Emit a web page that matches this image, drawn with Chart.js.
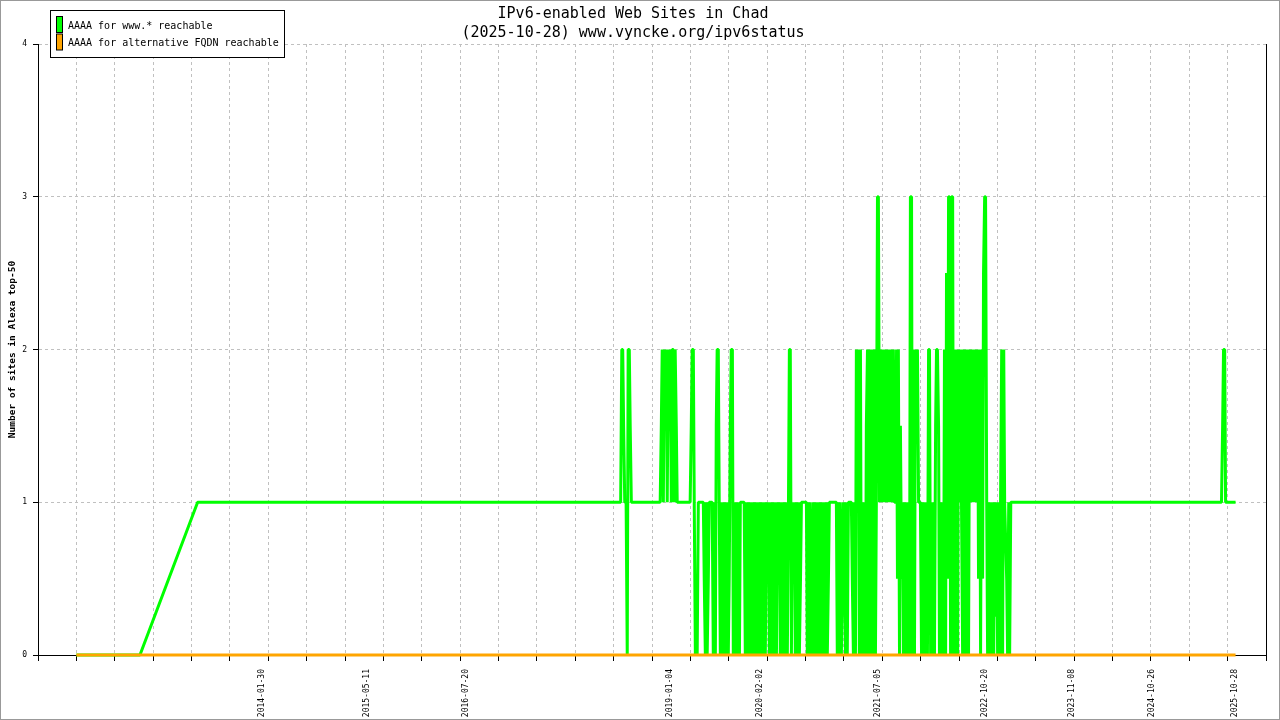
<!DOCTYPE html>
<html>
<head>
<meta charset="utf-8">
<title>IPv6-enabled Web Sites in Chad</title>
<script src="https://cdn.jsdelivr.net/npm/chart.js@4.4.1/dist/chart.umd.min.js"></script>
<style>
  html, body { margin: 0; padding: 0; background: #fff; }
  #wrap { width: 1280px; height: 720px; }
</style>
</head>
<body>
<div id="wrap"><canvas id="ipv6Chart" width="1280" height="720"></canvas></div>
<script>
// survey day index: days since the first measurement
const firstDay = '2011-11-07';

const titleLines = ['IPv6-enabled Web Sites in Chad', '(2025-10-28) www.vyncke.org/ipv6status'];
const yTitle = 'Number of sites in Alexa top-50';

const labelDates = ['2014-01-30', '2015-05-11', '2016-07-20', '2019-01-04', '2020-02-02',
  '2021-07-05', '2022-10-20', '2023-11-08', '2024-10-26', '2025-10-28'];

// AAAA for www.* reachable
const wwwDays = [
  0, 280, 534, 2397, 2402, 2406, 2410, 2415, 2421, 2426,
  2430, 2435, 2439, 2444, 2571, 2576, 2580, 2585, 2589, 2593,
  2598, 2602, 2607, 2611, 2615, 2620, 2624, 2629, 2633, 2637,
  2642, 2646, 2703, 2708, 2712, 2717, 2721, 2726, 2730, 2734,
  2739, 2761, 2765, 2770, 2774, 2778, 2783, 2787, 2800, 2805,
  2809, 2814, 2818, 2822, 2827, 2831, 2836, 2840, 2845, 2849,
  2853, 2858, 2862, 2867, 2871, 2875, 2880, 2884, 2889, 2893,
  2897, 2902, 2906, 2911, 2915, 2920, 2924, 2941, 2946, 2950,
  2955, 2959, 2963, 2968, 2972, 2977, 2981, 2986, 2990, 2994,
  2999, 3003, 3008, 3012, 3016, 3021, 3025, 3030, 3034, 3039,
  3043, 3047, 3052, 3056, 3061, 3065, 3069, 3074, 3078, 3083,
  3087, 3091, 3096, 3100, 3105, 3109, 3114, 3118, 3122, 3127,
  3131, 3136, 3140, 3144, 3149, 3153, 3158, 3162, 3166, 3171,
  3175, 3180, 3184, 3189, 3193, 3215, 3219, 3224, 3228, 3232,
  3237, 3241, 3246, 3250, 3254, 3259, 3263, 3268, 3272, 3276,
  3281, 3285, 3290, 3294, 3299, 3303, 3307, 3312, 3316, 3347,
  3351, 3356, 3360, 3364, 3369, 3373, 3378, 3382, 3387, 3391,
  3395, 3400, 3413, 3417, 3422, 3426, 3431, 3435, 3439, 3444,
  3448, 3453, 3457, 3462, 3466, 3470, 3475, 3479, 3484, 3488,
  3492, 3497, 3501, 3506, 3510, 3514, 3519, 3523, 3528, 3532,
  3537, 3541, 3545, 3550, 3554, 3559, 3563, 3567, 3572, 3576,
  3581, 3585, 3589, 3594, 3598, 3603, 3607, 3612, 3616, 3620,
  3625, 3629, 3634, 3638, 3642, 3647, 3651, 3656, 3660, 3664,
  3669, 3673, 3678, 3682, 3687, 3691, 3695, 3700, 3704, 3709,
  3717, 3722, 3726, 3731, 3735, 3739, 3744, 3748, 3753, 3757,
  3762, 3766, 3770, 3775, 3779, 3784, 3788, 3792, 3797, 3801,
  3806, 3810, 3815, 3819, 3823, 3828, 3832, 3837, 3841, 3845,
  3850, 3854, 3859, 3863, 3867, 3872, 3876, 3881, 3885, 3890,
  3894, 3898, 3903, 3907, 3912, 3916, 3920, 3925, 3929, 3934,
  3938, 3942, 3947, 3951, 3956, 3960, 3965, 3969, 3973, 3978,
  3982, 3987, 3991, 3995, 4000, 4004, 4009, 4013, 4017, 4022,
  4026, 4031, 4035, 4040, 4044, 4048, 4053, 4057, 4062, 4066,
  4070, 4075, 4079, 4084, 4088, 4097, 4101, 4106, 4110, 4115,
  5043, 5048, 5052, 5057, 5061, 5105
];
const wwwSites = [
  0, 0, 1, 1, 2, 2, 1.5, 1, 1, 0,
  2, 2, 1.5, 1, 1, 1.5, 2, 1, 2, 1.5,
  2, 1, 2, 1.5, 2, 1, 2, 2, 1, 2,
  1.5, 1, 1, 1.5, 2, 2, 1, 0, 0.5, 0,
  1, 1, 0.5, 0, 1, 0, 0.5, 1, 1, 0,
  1, 0, 1.5, 2, 2, 1, 0, 1, 0, 1,
  0, 1, 0, 1, 0, 0.5, 1.5, 2, 2, 0,
  1, 0, 1, 0, 1, 0, 1, 1, 0, 1,
  0, 1, 0, 1, 0, 1, 0, 1, 0, 1,
  0, 1, 0, 1, 0, 1, 0, 1, 0, 1,
  0.5, 1, 0, 1, 0, 0.5, 1, 0, 1, 0,
  1, 0.5, 1, 0, 1, 0, 1, 0, 0.5, 1,
  0, 1, 2, 2, 0, 1, 0.5, 1, 0, 1,
  0, 1, 0, 0.5, 1, 1, 0, 1, 0, 1,
  0, 0.5, 1, 0, 1, 0, 1, 0, 0.5, 1,
  0, 1, 0, 1, 0, 1, 0, 0.5, 1, 1,
  0, 1, 0, 1, 0, 0.5, 1, 0.5, 0, 1,
  0, 1, 1, 0.5, 0, 1, 0, 2, 1, 2,
  0, 2, 0, 1, 0, 1, 0, 1.5, 2, 0,
  2, 0, 2, 1.5, 0, 2, 0, 1, 3, 3,
  1, 2, 1, 2, 1, 2, 1, 2, 1, 2,
  1, 1.5, 2, 1, 2, 1, 1, 2, 0.5, 2,
  0, 1.5, 0.5, 1, 0, 1, 0, 1, 0, 1,
  0, 3, 3, 0, 2, 0, 2, 1.5, 2, 1,
  1, 0, 1, 0, 1, 0, 1, 0, 2, 2,
  0, 1, 0, 1, 0, 1.5, 2, 2, 1.5, 0,
  1, 0, 1, 0, 2, 0, 2.5, 0.5, 3, 3,
  0, 3, 3, 0, 2, 0, 2, 0, 2, 1,
  2, 1, 0, 2, 0, 2, 0, 2, 0, 2,
  1, 2, 1, 2, 1, 2, 1, 2, 0.5, 2,
  0, 2, 0.5, 2.5, 3, 3, 1, 0, 1, 0,
  1, 0, 1, 0, 1, 0.25, 1, 0, 1, 0,
  1, 2, 0, 2, 1, 0.5, 0, 1, 0, 1,
  1, 1.5, 2, 2, 1, 1
];

// AAAA for alternative FQDN reachable
const altDays = [0, 5105];
const altSites = [0, 0];

const mono = "'DejaVu Sans Mono', monospace";

function dayIndex(s) {
  const [y, m, d] = s.split('-').map(Number);
  const [y0, m0, d0] = firstDay.split('-').map(Number);
  return Math.round((Date.UTC(y, m - 1, d) - Date.UTC(y0, m0 - 1, d0)) / 864e5);
}
const labelDays = labelDates.map(dayIndex);
const toPoints = (days, vals) => days.map((d, i) => ({ x: d, y: vals[i] }));

const tickStep = 169;
const xMin = -tickStep;
const xMax = 31 * tickStep;

const boxLegend = {
  id: 'boxLegend',
  afterDraw(chart) {
    const ctx = chart.ctx;
    ctx.save();
    ctx.fillStyle = '#fff';
    ctx.fillRect(50.5, 10.5, 234, 47);
    ctx.strokeStyle = '#000';
    ctx.lineWidth = 1;
    ctx.strokeRect(50.5, 10.5, 234, 47);
    ctx.font = '10px ' + mono;
    ctx.textBaseline = 'middle';
    chart.data.datasets.forEach((ds, i) => {
      const top = 16.5 + i * 17.5;
      ctx.fillStyle = ds.borderColor;
      ctx.fillRect(56.5, top, 6, 16);
      ctx.strokeStyle = '#000';
      ctx.strokeRect(56.5, top, 6, 16);
      ctx.fillStyle = '#000';
      ctx.fillText(ds.label, 68, 26 + i * 17.3);
    });
    ctx.restore();
  }
};

const frame = {
  id: 'frame',
  afterDraw(chart) {
    const ctx = chart.ctx;
    ctx.save();
    ctx.strokeStyle = '#999';
    ctx.lineWidth = 1;
    ctx.strokeRect(0.5, 0.5, chart.width - 1, chart.height - 1);
    ctx.restore();
  }
};

Chart.defaults.font.family = mono;

new Chart(document.getElementById('ipv6Chart'), {
  type: 'line',
  data: {
    datasets: [
      {
        label: 'AAAA for www.* reachable',
        data: toPoints(wwwDays, wwwSites),
        borderColor: '#00ff00',
        backgroundColor: '#00ff00',
        borderWidth: 3,
        borderJoinStyle: 'bevel',
        pointRadius: 0,
        tension: 0,
        fill: false,
        clip: 4,
        order: 2
      },
      {
        label: 'AAAA for alternative FQDN reachable',
        data: toPoints(altDays, altSites),
        borderColor: '#ffa500',
        backgroundColor: '#ffa500',
        borderWidth: 3,
        pointRadius: 0,
        tension: 0,
        fill: false,
        clip: 4,
        order: 1
      }
    ]
  },
  options: {
    responsive: false,
    devicePixelRatio: 1,
    animation: false,
    events: [],
    layout: { padding: { left: 0, right: 14, top: 0, bottom: 0 } },
    plugins: {
      legend: { display: false },
      tooltip: { enabled: false },
      title: {
        display: true,
        text: titleLines,
        color: '#000',
        font: { family: mono, size: 15, weight: 'normal', lineHeight: 1.3 },
        padding: { top: 4, bottom: 1 }
      }
    },
    scales: {
      x: {
        type: 'linear',
        position: 'bottom',
        min: xMin,
        max: xMax,
        ticks: { stepSize: tickStep, display: false },
        grid: {
          color: c => (c.index === 0 || c.tick.value === xMax) ? 'rgba(0,0,0,0)' : '#c0c0c0',
          lineWidth: 1,
          tickLength: 6,
          tickColor: '#000'
        },
        border: { display: true, color: '#000', width: 1, dash: [3, 3] },
        afterFit(s) { s.height = 6; }
      },
      xDates: {
        type: 'linear',
        position: 'bottom',
        weight: 1,
        min: xMin,
        max: xMax,
        afterBuildTicks(s) { s.ticks = labelDays.map(v => ({ value: v })); },
        ticks: {
          autoSkip: false,
          minRotation: 90,
          maxRotation: 90,
          padding: 8,
          color: '#000',
          font: { family: mono, size: 8 },
          callback: (v, i) => labelDates[i]
        },
        grid: { display: false, drawTicks: false, tickLength: 0 },
        border: { display: false },
        afterFit(s) { s.height = 59; }
      },
      y: {
        type: 'linear',
        position: 'left',
        min: 0,
        max: 4,
        ticks: { stepSize: 1, color: '#000', padding: 6, font: { family: mono, size: 8 } },
        grid: {
          color: c => c.tick.value === 0 ? 'rgba(0,0,0,0)' : '#c0c0c0',
          lineWidth: 1,
          tickLength: 5,
          tickColor: '#000'
        },
        border: { display: true, color: '#000', width: 1, dash: [3, 3] },
        title: {
          display: true,
          text: yTitle,
          color: '#000',
          font: { family: mono, size: 9.5, weight: 'bold' },
          padding: { top: 7, bottom: 0 }
        },
        afterFit(s) { s.width = 38; }
      },
      yRight: {
        type: 'linear',
        position: 'right',
        min: 0,
        max: 4,
        ticks: { display: false },
        grid: { display: false, drawTicks: false },
        border: { display: true, color: '#000', width: 1 },
        afterFit(s) { s.width = 0; }
      }
    }
  },
  plugins: [boxLegend, frame]
});
</script>
</body>
</html>
